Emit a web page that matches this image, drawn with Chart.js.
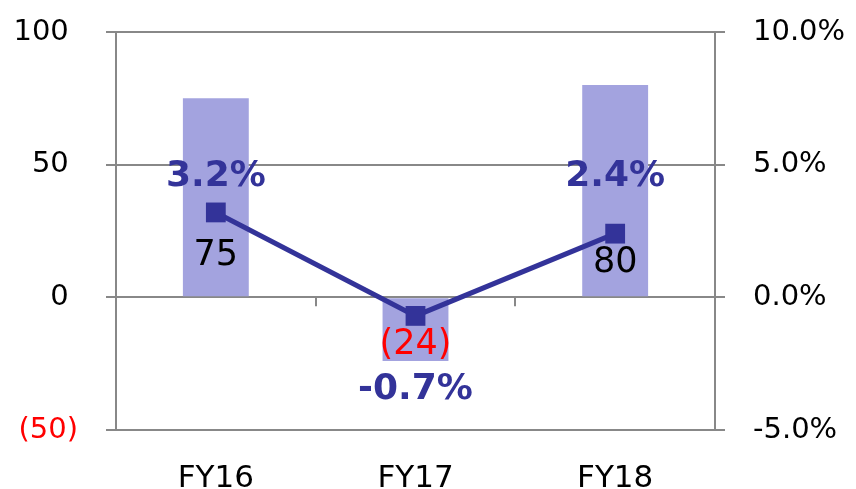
<!DOCTYPE html>
<html>
<head>
<meta charset="utf-8">
<script src="https://cdn.jsdelivr.net/npm/chart.js@4"></script>
<style>
  html, body { margin: 0; padding: 0; background: #fff; }
  #wrap { width: 856px; height: 489px; }
</style>
</head>
<body>
<div id="wrap"><canvas id="chart" width="856" height="489"></canvas></div>
<script>
const categories = ['FY16', 'FY17', 'FY18'];
const amounts = [75, -24, 80];
const margins = [3.2, -0.7, 2.4];
const leftTicks = [-50, 0, 50, 100];
const rightTicks = [-5, 0, 5, 10];

// label placement (pixels from the marker / bar base)
const marginLabelShift = [-36, 74, -57];
const amountLabelShift = [-40, 47, -33];

const font = "'DejaVu Sans', Verdana, sans-serif";
const gridColor = '#888888';
const lineColor = '#333399';
const barColor = '#a3a3df';

function amountText(v) {
  return v < 0 ? '(' + Math.abs(v) + ')' : String(v);
}

// small category ticks hanging under the zero line, and the value labels
const valueLabels = {
  id: 'valueLabels',
  beforeDatasetsDraw(chart) {
    const ctx = chart.ctx;
    const x = chart.scales.x;
    const zero = chart.scales.y.getPixelForValue(0);
    ctx.save();
    ctx.strokeStyle = gridColor;
    ctx.lineWidth = 2;
    for (let i = 0; i < categories.length - 1; i++) {
      const px = Math.round((x.getPixelForValue(i) + x.getPixelForValue(i + 1)) / 2);
      ctx.beginPath();
      ctx.moveTo(px, zero);
      ctx.lineTo(px, zero + 9);
      ctx.stroke();
    }
    ctx.restore();
  },
  afterDatasetsDraw(chart) {
    const ctx = chart.ctx;
    const barMeta = chart.getDatasetMeta(0);
    const lineMeta = chart.getDatasetMeta(1);
    ctx.save();
    ctx.textAlign = 'center';
    ctx.textBaseline = 'middle';
    barMeta.data.forEach((bar, i) => {
      const v = amounts[i];
      ctx.font = '35px ' + font;
      ctx.fillStyle = v < 0 ? '#ff0000' : '#000000';
      ctx.fillText(amountText(v), bar.x, bar.base + amountLabelShift[i]);
    });
    lineMeta.data.forEach((pt, i) => {
      ctx.font = 'bold 36px ' + font;
      ctx.fillStyle = lineColor;
      ctx.fillText(margins[i].toFixed(1) + '%', pt.x, pt.y + marginLabelShift[i]);
    });
    ctx.restore();
  }
};

function fixSide(width) {
  return scale => {
    scale.width = width;
    scale.paddingTop = 0;
    scale.paddingBottom = 0;
  };
}

const chartCanvas = document.querySelector('#chart');
const chart = new Chart(chartCanvas, {
  data: {
    labels: categories,
    datasets: [{
      type: 'bar',
      data: amounts,
      backgroundColor: barColor,
      categoryPercentage: 1,
      barPercentage: 0.33,
      yAxisID: 'y',
      order: 2
    }, {
      type: 'line',
      data: margins,
      borderColor: lineColor,
      borderWidth: 5,
      backgroundColor: lineColor,
      pointStyle: 'rect',
      pointRadius: 14,
      pointBorderWidth: 0,
      tension: 0,
      yAxisID: 'y1',
      order: 1
    }]
  },
  options: {
    responsive: false,
    animation: false,
    devicePixelRatio: 1,
    layout: { padding: { top: 32, bottom: 0, left: 0, right: 0 } },
    plugins: { legend: { display: false }, tooltip: { enabled: false } },
    scales: {
      x: {
        position: 'bottom',
        grid: { display: false },
        border: { display: false },
        ticks: { color: '#000', font: { family: font, size: 31 }, padding: 22 },
        afterFit(scale) { scale.height = 59; }
      },
      y: {
        position: 'left',
        min: -50,
        max: 100,
        afterBuildTicks(scale) { scale.ticks = leftTicks.map(v => ({ value: v })); },
        grid: { color: gridColor, lineWidth: 2, tickLength: 10 },
        border: { display: true, color: gridColor, width: 2 },
        ticks: {
          padding: 28,
          font: { family: font, size: 29 },
          color: c => c.tick && c.tick.value < 0 ? '#ff0000' : '#000000',
          // positives keep room for the closing bracket, like the spreadsheet format
          callback: v => v < 0 ? amountText(v) : amountText(v) + ' '
        },
        afterFit: fixSide(116)
      },
      y1: {
        position: 'right',
        min: -5,
        max: 10,
        afterBuildTicks(scale) { scale.ticks = rightTicks.map(v => ({ value: v })); },
        grid: { drawOnChartArea: false, color: gridColor, lineWidth: 2, tickLength: 10 },
        border: { display: true, color: gridColor, width: 2 },
        ticks: {
          padding: 28,
          font: { family: font, size: 29 },
          color: '#000000',
          callback: v => v.toFixed(1) + '%'
        },
        afterFit: fixSide(141)
      }
    }
  },
  plugins: [valueLabels]
});
</script>
</body>
</html>
